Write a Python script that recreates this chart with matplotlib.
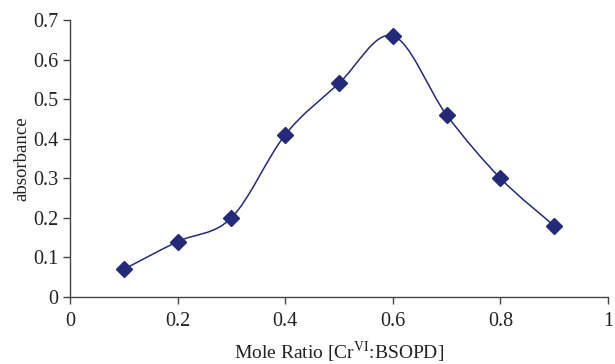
import numpy as np
import matplotlib
matplotlib.use('Agg')
import matplotlib.pyplot as plt
from matplotlib.path import Path
from matplotlib.patches import PathPatch

# Relación molar vs absorbancia
ratio = [0.1, 0.2, 0.3, 0.4, 0.5, 0.6, 0.7, 0.8, 0.9]
absorbancia = [0.07, 0.14, 0.20, 0.41, 0.54, 0.66, 0.46, 0.30, 0.18]

color = '#252a78'

plt.rcParams['font.family'] = ['Liberation Serif', 'DejaVu Serif']
plt.rcParams['mathtext.fontset'] = 'stix'


def curva_suave(x, y, t=1/6):
    # Bezier tipo Catmull-Rom (linea suavizada estilo Excel)
    pts = np.column_stack([x, y])
    verts = [pts[0]]
    codes = [Path.MOVETO]
    n = len(pts)
    for i in range(n - 1):
        p0 = pts[i - 1] if i > 0 else pts[i]
        p1 = pts[i]
        p2 = pts[i + 1]
        p3 = pts[i + 2] if i + 2 < n else pts[i + 1]
        c1 = p1 + (p2 - p0) * t
        c2 = p2 - (p3 - p1) * t
        verts += [c1, c2, p2]
        codes += [Path.CURVE4] * 3
    return Path(verts, codes)


fig = plt.figure(figsize=(6.15, 3.64), dpi=100)
ax = fig.add_axes([70/615, 1 - 297/364, (608 - 70)/615, (297 - 20)/364])

ax.add_patch(PathPatch(curva_suave(ratio, absorbancia), facecolor='none',
                       edgecolor=color, lw=1.1))
ax.plot(ratio, absorbancia, linestyle='none', marker='D', ms=8.5,
        color=color, zorder=3)

ax.set_xlim(0, 1)
ax.set_ylim(0, 0.7)
ax.set_xticks([0, 0.2, 0.4, 0.6, 0.8, 1])
ax.set_xticklabels(['0', '0.2', '0.4', '0.6', '0.8', '1'])
ax.set_yticks(np.arange(0, 0.71, 0.1))
ax.set_yticklabels(['0', '0.1', '0.2', '0.3', '0.4', '0.5', '0.6', '0.7'])

for s in ['top', 'right']:
    ax.spines[s].set_visible(False)
for s in ['left', 'bottom']:
    ax.spines[s].set_color('#444444')
    ax.spines[s].set_linewidth(1.0)

ax.tick_params(direction='out', length=5, width=1, colors='#444444',
               labelcolor='#222222', labelsize=14.5)
ax.tick_params(axis='x', pad=6)

ax.set_xlabel(r'Mole Ratio [Cr$^{\mathrm{VI}}$:BSOPD]', fontsize=14,
              color='#222222', labelpad=6)
ax.set_ylabel('absorbance', fontsize=13.5, color='#222222', labelpad=2)

fig.savefig('out.png', dpi=100)
